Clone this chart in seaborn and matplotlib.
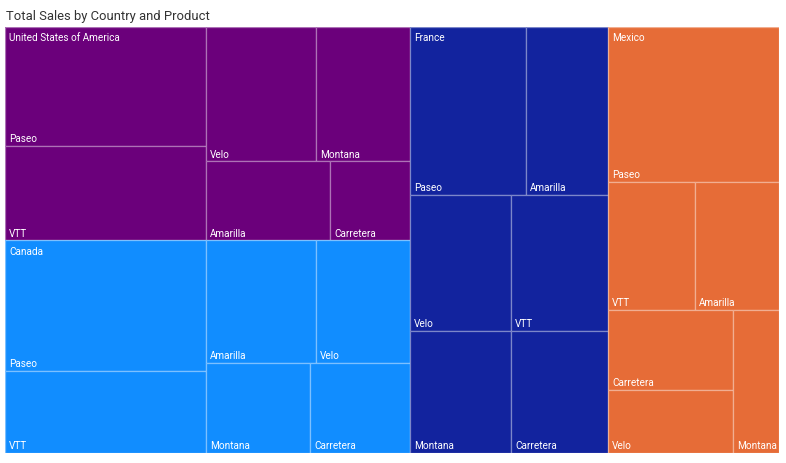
import numpy as np
import pandas as pd
import matplotlib.pyplot as plt
import matplotlib.patches as mpatches
import seaborn as sns

# sales in millions
countries = ["United States of America", "Canada", "France", "Mexico"]
products = ["Paseo", "VTT", "Velo", "Montana", "Amarilla", "Carretera"]
usa_sales = [6.94, 5.48, 4.28, 3.65, 2.84, 1.83]
canada_sales = [7.60, 4.78, 3.35, 2.72, 3.93, 2.61]
france_sales = [5.65, 3.83, 3.99, 3.58, 4.00, 3.43]
mexico_sales = [7.69, 3.23, 2.29, 1.91, 3.12, 2.90]
country_colors = ["#6B007B", "#118DFF", "#12239E", "#E66C37"]

rows = []
for c, vals in zip(countries, [usa_sales, canada_sales, france_sales, mexico_sales]):
    for p, v in zip(products, vals):
        rows.append({"Country": c, "Product": p, "Sales": v})
df = pd.DataFrame(rows)

PHI = (1 + 5 ** 0.5) / 2


def squarify(values, x0, y0, x1, y1, ratio=PHI):
    # same idea as d3 treemapSquarify, values sorted descending
    rects = []
    total = float(sum(values))
    n = len(values)
    i0 = 0
    while i0 < n:
        dx, dy = x1 - x0, y1 - y0
        s = values[i0]
        i1 = i0 + 1
        vmin = vmax = s
        alpha = max(dy / dx, dx / dy) / (total * ratio)
        beta = s * s * alpha
        best = max(vmax / beta, beta / vmin)
        while i1 < n:
            v = values[i1]
            s2 = s + v
            beta = s2 * s2 * alpha
            r = max(max(vmax, v) / beta, beta / min(vmin, v))
            if r > best:
                break
            s = s2
            vmin, vmax = min(vmin, v), max(vmax, v)
            best = r
            i1 += 1
        row = values[i0:i1]
        if dx < dy:
            h = dy * s / total
            cx = x0
            for v in row:
                w = dx * v / s
                rects.append((cx, y0, w, h))
                cx += w
            y0 += h
        else:
            w = dx * s / total
            cy = y0
            for v in row:
                h = dy * v / s
                rects.append((x0, cy, w, h))
                cy += h
            x0 += w
        total -= s
        i0 = i1
    return rects


sns.set_theme(style="white")
plt.rcParams["font.family"] = ["Roboto", "DejaVu Sans"]

fig = plt.figure(figsize=(7.86, 4.63), dpi=100)
ax = fig.add_axes([5 / 786, 10 / 463, 774 / 786, 426 / 463])
W, H = 774.0, 426.0
ax.set_xlim(0, W)
ax.set_ylim(H, 0)
ax.axis("off")

palette = dict(zip(countries, sns.color_palette(country_colors)))

totals = df.groupby("Country", sort=False)["Sales"].sum().sort_values(ascending=False)
country_rects = squarify(list(totals.values), 0, 0, W, H)

for country, (cx, cy, cw, ch) in zip(totals.index, country_rects):
    sub = df[df["Country"] == country].sort_values("Sales", ascending=False, kind="stable")
    prod_rects = squarify(list(sub["Sales"].values), cx, cy, cx + cw, cy + ch)
    for prod, (px, py, pw, ph) in zip(sub["Product"], prod_rects):
        ax.add_patch(mpatches.Rectangle((px, py), pw, ph, facecolor=palette[country],
                                        edgecolor="none"))
        ax.add_patch(mpatches.Rectangle((px, py), pw, ph, facecolor="none",
                                        edgecolor=(1, 1, 1, 0.45), lw=0.9))
        ax.annotate(prod, xy=(px, py + ph), xytext=(3, 2.6), textcoords="offset points",
                    ha="left", va="baseline", color="white", fontsize=7.2)
    ax.annotate(country, xy=(cx, cy), xytext=(3, -4.6), textcoords="offset points",
                ha="left", va="top", color="white", fontsize=7.2)

fig.text(6 / 786, 1 - 20 / 463, "Total Sales by Country and Product", ha="left",
         va="baseline", color="#333333", fontsize=9.4)

fig.savefig("out.png", dpi=100, facecolor="white")
